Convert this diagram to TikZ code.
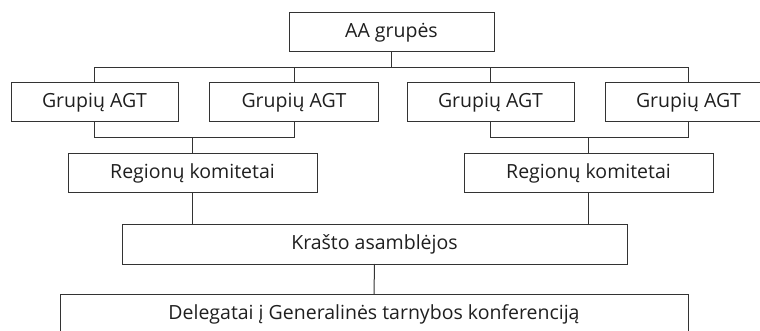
\documentclass[tikz,border=0pt]{standalone}
\usepackage{fontspec}
\setmainfont{Open Sans}
\begin{document}
\begin{tikzpicture}[x=1pt,y=-1pt,
  box/.style={draw=black!80,line width=1pt,rectangle,inner sep=0pt,outer sep=0pt,
    minimum height=39pt,text=black!88,font=\fontsize{19.5}{22}\selectfont},
  conn/.style={draw=black!80,line width=1pt}]
\useasboundingbox (0,0) rectangle (760,331);
\clip (0,0) rectangle (760,331);
\node[box,minimum width=205pt] (aa) at (391.5,32.5) {AA grupės};
\node[box,minimum width=167pt] (g1) at (94.5,102.5) {Grupių AGT};
\node[box,minimum width=169pt] (g2) at (294,102.5) {Grupių AGT};
\node[box,minimum width=167pt] (g3) at (490.5,102.5) {Grupių AGT};
\node[box,minimum width=167pt] (g4) at (688.5,102.5) {Grupių AGT};
\node[box,minimum width=249pt] (r1) at (192.5,173.5) {Regionų komitetai};
\node[box,minimum width=249pt] (r2) at (588.5,173.5) {Regionų komitetai};
\node[box,minimum width=505pt,minimum height=40pt] (k) at (374.5,244) {Krašto asamblėjos};
\node[box,minimum width=628pt,minimum height=41pt] (d) at (374,314.5) {Delegatai į Generalinės tarnybos konferenciją};
\coordinate (t) at (0,68);
\coordinate (b) at (0,138);
\draw[conn] (aa.south) -- (aa.south |- t);
\draw[conn] (g1.north) -- (g1.north |- t) -- (g4.north |- t) -- (g4.north);
\draw[conn] (g2.north) -- (g2.north |- t);
\draw[conn] (g3.north) -- (g3.north |- t);
\draw[conn] (g1.south) -- (g1.south |- b) -- (g2.south |- b) -- (g2.south);
\draw[conn] (g3.south) -- (g3.south |- b) -- (g4.south |- b) -- (g4.south);
\draw[conn] (r1.north) -- (r1.north |- b);
\draw[conn] (r2.north) -- (r2.north |- b);
\draw[conn] (r1.south) -- (r1.south |- k.north);
\draw[conn] (r2.south) -- (r2.south |- k.north);
\draw[conn] (k.south) -- (d.north);
\end{tikzpicture}
\end{document}
